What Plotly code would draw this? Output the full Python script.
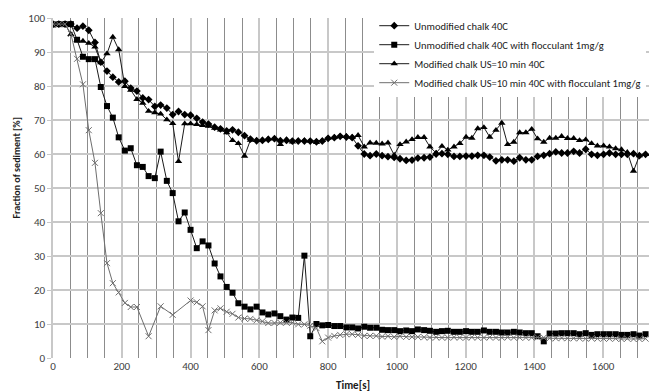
import plotly.graph_objects as go

time_s = [0, 17, 35, 52, 70, 87, 104, 122, 139, 157, 174, 191, 209, 226, 244, 261, 278, 296, 313, 331,
          348, 365, 383, 400, 418, 435, 452, 470, 487, 505, 522, 539, 557, 574, 592, 609, 626, 644, 661, 679,
          696, 713, 731, 748, 766, 783, 800, 818, 835, 853, 870, 887, 905, 922, 940, 957, 974, 992, 1009, 1027,
          1044, 1061, 1079, 1096, 1114, 1131, 1148, 1166, 1183, 1201, 1218, 1235, 1253, 1270, 1288, 1305, 1322, 1340, 1357, 1375,
          1392, 1409, 1427, 1444, 1462, 1479, 1496, 1514, 1531, 1549, 1566, 1583, 1601, 1618, 1636, 1653, 1670, 1688, 1705, 1723]

unmod = [98.2, 98.2, 98.2, 98.2,
         97.0, 97.6, 96.4, 92.8, 87.0, 84.4, 82.6, 81.2, 81.4,
         79.4, 78.5, 76.5, 76.0, 74.0, 74.4, 73.5, 71.6, 72.5, 71.6, 71.4,
         70.5, 69.4, 68.8, 67.9, 67.4, 66.8, 67.1, 66.4, 65.4,
         64.4, 63.9, 64.0, 64.3, 64.5, 63.9, 64.0, 63.8, 63.8, 63.8, 63.8, 63.6, 63.8, 64.6, 64.8,
         65.2, 65.0, 64.8, 62.4, 60.0, 59.5, 60.0, 59.5, 59.2, 59.0,
         58.6, 58.1, 58.2, 58.8, 58.9, 59.1, 60.0, 60.1, 59.9, 59.3, 59.3, 59.4, 59.4, 59.6, 59.6, 59.1,
         58.0, 58.3, 58.3, 57.9, 58.9, 58.3, 58.3, 59.3, 59.6, 60.1, 60.6, 60.3, 60.3, 60.8, 60.3, 61.4,
         59.9, 59.6, 59.9, 60.3, 59.9, 59.9, 59.9, 60.1, 59.5, 59.9]

unmod_floc = [98.1, 98.2, 98.2, 98.2,
              93.6, 88.6, 87.9, 87.9, 79.7, 74.1, 70.7, 64.9, 61.0, 61.7, 56.7, 56.2, 53.5, 52.9, 60.7,
              52.1, 48.5, 40.2, 42.8, 37.7, 32.3, 34.3, 33.1, 27.8, 24.0, 20.9, 19.2, 16.1, 15.1, 14.3, 15.1,
              13.4, 12.8, 13.1, 12.3, 11.3, 11.9, 11.8,
              30.1, 6.4, 10.0, 9.6, 9.7, 9.4, 9.4, 9.0, 9.0, 8.7, 9.2, 8.9, 8.9, 8.3, 8.2, 8.2,
              7.9, 8.1, 7.9, 8.4, 8.2, 8.0, 7.7, 7.9, 8.0, 7.7, 7.7, 7.9, 7.7, 7.7, 8.1, 7.7, 7.7, 7.5, 7.5, 7.7,
              7.5, 7.3, 7.3, 6.4, 4.9, 7.2, 7.2, 7.3, 7.3, 7.3, 7.0, 7.3, 6.8, 7.0, 7.0, 7.0, 7.0, 6.8, 6.8, 7.0,
              6.6, 7.0]

mod = [98.2, 98.2, 98.2, 95.2, 93.4, 93.2, 92.6, 91.5, 86.9, 89.5, 94.4, 90.7, 79.9, 78.8, 76.1, 75.0,
       72.6, 72.2, 71.8, 70.1, 69.0, 57.8, 68.9, 68.9, 68.7, 68.4, 68.2, 67.6, 67.1, 66.3, 64.0, 63.1, 59.4,
       64.1, 64.0, 64.2, 64.5, 64.5, 62.8, 64.3, 63.6, 64.0, 64.0, 63.8, 63.4, 64.0, 64.7, 64.9,
       65.2, 65.2, 65.0, 65.5, 62.1, 63.3, 63.2, 63.0, 63.3, 59.7,
       62.8, 63.6, 64.3, 64.9, 64.9, 62.1, 60.3, 62.3, 61.2, 62.1, 63.1, 65.0, 64.7, 67.5, 67.8, 65.0,
       67.0, 69.1, 62.8, 63.5, 66.3, 66.3, 67.3, 64.5, 63.5, 64.7, 64.7, 65.2, 64.6, 64.6, 64.0, 64.2,
       63.1, 62.4, 62.4, 62.1, 61.6, 61.3, 60.5, 55.0, 59.5, 59.9]

mod_floc = [98.2, 98.2, 98.2, 95.3, 88.0, 80.5, 67.0, 57.4, 42.6, 27.9, 22.0, 19.3, 16.2, 15.0, 15.0,
            None, 6.4, None, 15.2, None, 12.7, None, None, 16.9, 16.4,
            15.2, 8.2, 14.0, 14.6, 13.6, 13.0, 11.9, 11.6, 11.5, 11.1, 10.8, 10.3, 10.3, 10.4, 10.4, 10.4,
            9.9, 9.9, 9.5, 8.8, 4.9,
            6.0, 6.5, 6.8, 7.0, 7.0, 6.8, 6.5, 6.5, 6.5, 6.3, 6.4, 6.2, 6.4, 6.2, 6.2, 6.2,
            6.1, 6.0, 6.1, 6.0, 6.0, 6.1, 6.0, 6.0, 6.1, 6.0, 6.0, 6.1, 6.0, 6.0, 6.1, 6.0, 6.0, 6.0, 6.0, 6.1,
            6.0,
            5.8, 5.8, 5.9, 5.8, 5.8, 5.8, 5.7, 5.8, 5.7, 5.7, 5.7, 5.7, 5.6, 5.7, 5.6, 5.6, 5.7]

for s in (unmod, unmod_floc, mod, mod_floc):
    assert len(s) == len(time_s), len(s)

names = ["Unmodified chalk 40C",
         "Unmodified chalk 40C with flocculant 1mg/g",
         "Modified chalk US=10 min 40C",
         "Modified chalk US=10 min 40C with flocculant 1mg/g"]

FONT = "Carlito, Lato, Liberation Sans, sans-serif"

fig = go.Figure()
fig.add_trace(go.Scatter(x=time_s, y=unmod, name=names[0], mode="lines+markers",
                         line=dict(color="#1a1a1a", width=1),
                         marker=dict(symbol="diamond", size=6, color="#000000")))
fig.add_trace(go.Scatter(x=time_s, y=unmod_floc, name=names[1], mode="lines+markers",
                         line=dict(color="#1a1a1a", width=1),
                         marker=dict(symbol="square", size=6, color="#000000")))
fig.add_trace(go.Scatter(x=time_s, y=mod, name=names[2], mode="lines+markers",
                         line=dict(color="#1a1a1a", width=1),
                         marker=dict(symbol="triangle-up", size=6.5, color="#000000")))
fig.add_trace(go.Scatter(x=time_s, y=mod_floc, name=names[3], mode="lines+markers",
                         connectgaps=True,
                         line=dict(color="#6e6e6e", width=1),
                         marker=dict(symbol="x-thin-open", size=6, color="#6e6e6e",
                                     line=dict(color="#6e6e6e", width=1))))

fig.update_layout(
    width=649, height=392,
    margin=dict(l=53, r=0, t=18, b=34),
    paper_bgcolor="white", plot_bgcolor="white",
    font=dict(family=FONT, size=11, color="#333333"),
    showlegend=True,
    legend=dict(x=0.539, y=1.02, xanchor="left", yanchor="top",
                bgcolor="white", borderwidth=0, itemwidth=30,
                font=dict(family=FONT, size=10.5, color="#1a1a1a"),
                tracegroupgap=0),
    xaxis=dict(range=[0, 1733], dtick=200, tick0=0,
               showgrid=True, gridcolor="#c8c8c8", gridwidth=1.5,
               minor=dict(dtick=50, showgrid=True, gridcolor="#8c8c8c", gridwidth=1),
               zeroline=False, showline=False,
               ticks="", tickfont=dict(family=FONT, size=11, color="#404040")),
    yaxis=dict(range=[0, 100], dtick=10, tick0=0,
               showgrid=True, gridcolor="#c8c8c8", gridwidth=1.5,
               zeroline=False, showline=True, linecolor="#c8c8c8", linewidth=1.5,
               ticks="outside", ticklen=4, tickcolor="#c8c8c8",
               tickfont=dict(family=FONT, size=11, color="#404040")),
    annotations=[
        dict(text="<b>Time[s]</b>", xref="paper", yref="paper", x=0.503, y=-0.082,
             xanchor="center", yanchor="middle", showarrow=False,
             font=dict(family=FONT, size=11, color="#1a1a1a")),
        dict(text="<b>Fraction of sediment [%]</b>", xref="paper", yref="paper",
             x=-0.0604, y=0.56, xanchor="center", yanchor="middle", textangle=-90,
             showarrow=False, font=dict(family=FONT, size=10, color="#1a1a1a")),
    ],
)

fig.write_html("out.html")
